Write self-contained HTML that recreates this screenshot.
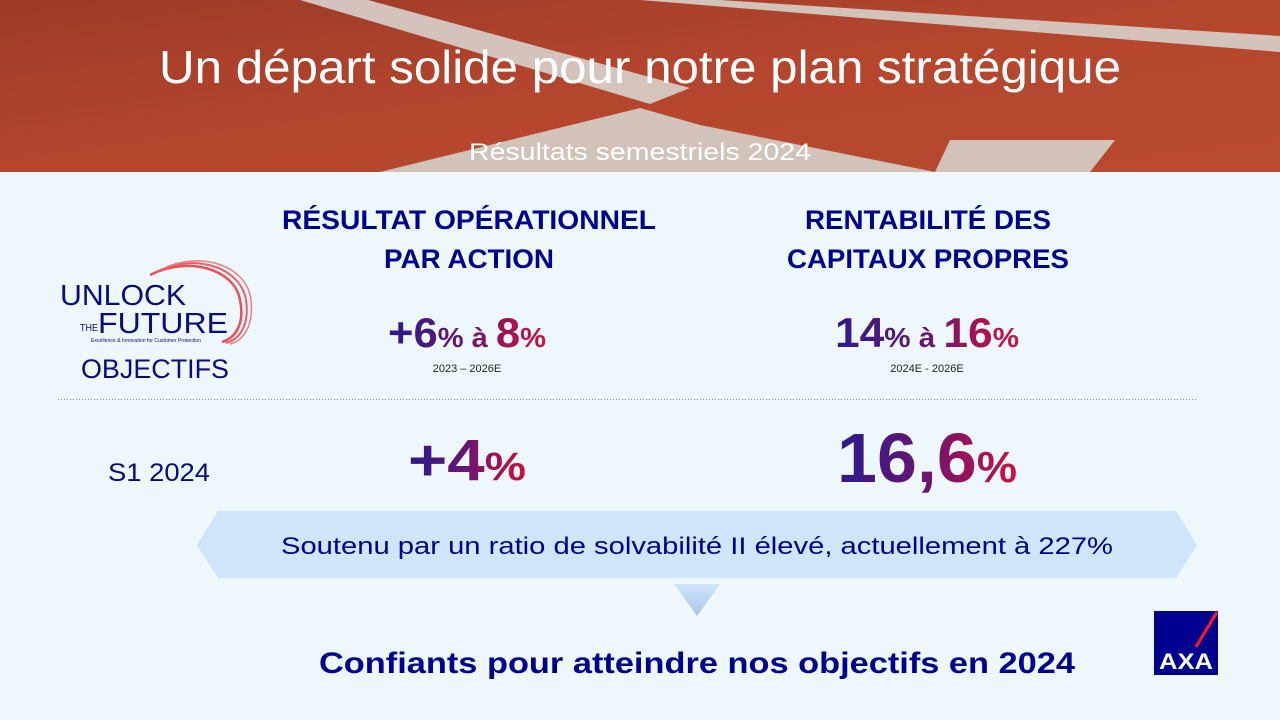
<!DOCTYPE html>
<html><head><meta charset="utf-8"><style>
html,body{margin:0;padding:0;width:1280px;height:720px;overflow:hidden;background:#eef8fc}
svg{display:block}
text{font-family:"Liberation Sans",sans-serif}
</style></head><body>
<svg width="1280" height="720" viewBox="0 0 1280 720">
<defs>
<linearGradient id="trk" x1="0" y1="0" x2="1" y2="1"><stop offset="0" stop-color="#9c3a26"/><stop offset="0.5" stop-color="#b5462e"/><stop offset="1" stop-color="#b84a31"/></linearGradient>
<linearGradient id="num" x1="0" y1="0" x2="1" y2="0"><stop offset="0" stop-color="#2a1a8c"/><stop offset="0.5" stop-color="#6a1670"/><stop offset="1" stop-color="#d0103c"/></linearGradient>
<linearGradient id="tri" x1="0" y1="0" x2="0" y2="1"><stop offset="0" stop-color="#cfe4f8"/><stop offset="1" stop-color="#a8c8ea"/></linearGradient>
</defs>
<g>
<rect x="0" y="0" width="1280" height="172" fill="url(#trk)"/>
<polygon points="300,0 368,0 690,88 650,104" fill="#d8d2cc" opacity="0.9"/>
<polygon points="640,0 720,0 1280,36 1280,52" fill="#d6d0ca" opacity="0.9"/>
<polygon points="380,172 640,108 700,125 935,172" fill="#d4cfca" opacity="0.9"/>
<polygon points="935,172 950,140 1115,140 1090,172" fill="#d4cfca" opacity="0.9"/>
<text x="640" y="83" text-anchor="middle" font-size="46" fill="#fff" textLength="962" lengthAdjust="spacingAndGlyphs">Un départ solide pour notre plan stratégique</text>
<text x="640" y="160" text-anchor="middle" font-size="24" fill="#fff" textLength="342" lengthAdjust="spacingAndGlyphs">Résultats semestriels 2024</text>
</g>
<g>
<path d="M150,275 C190,255 235,270 240,300 C245,325 235,338 222,342" fill="none" stroke="#e8505a" stroke-width="2.5"/>
<path d="M156,272 C196,252 241,268 246,300 C250,327 238,340 226,343" fill="none" stroke="#e8606a" stroke-width="2"/>
<path d="M162,269 C202,250 247,266 251,300 C254,328 242,341 230,344" fill="none" stroke="#ef7a80" stroke-width="1.5"/>
<text x="60" y="305" font-size="29" fill="#0a0a80" textLength="126" lengthAdjust="spacingAndGlyphs">UNLOCK</text>
<text x="80" y="331" font-size="10" fill="#0a0a80" textLength="18" lengthAdjust="spacingAndGlyphs">THE</text>
<text x="98" y="333" font-size="29" fill="#0a0a80" textLength="130" lengthAdjust="spacingAndGlyphs">FUTURE</text>
<text x="91" y="342" font-size="5" fill="#0a0a80" textLength="110" lengthAdjust="spacingAndGlyphs">Excellence &amp; Innovation for Customer Protection</text>
<text x="155" y="378" text-anchor="middle" font-size="27" fill="#0a0a80" textLength="148" lengthAdjust="spacingAndGlyphs">OBJECTIFS</text>
</g>
<g>
<text x="469" y="229" text-anchor="middle" font-size="27" font-weight="bold" fill="#00008f" textLength="374" lengthAdjust="spacingAndGlyphs">RÉSULTAT OPÉRATIONNEL</text>
<text x="469" y="268" text-anchor="middle" font-size="27" font-weight="bold" fill="#00008f" textLength="170" lengthAdjust="spacingAndGlyphs">PAR ACTION</text>
<text x="467" y="347" text-anchor="middle" font-weight="bold" fill="url(#num)" textLength="158" lengthAdjust="spacingAndGlyphs"><tspan font-size="42">+6</tspan><tspan font-size="28">% à </tspan><tspan font-size="42">8</tspan><tspan font-size="28">%</tspan></text>
<text x="467" y="372" text-anchor="middle" font-size="11" fill="#222">2023 – 2026E</text>
<text x="467" y="480" text-anchor="middle" font-weight="bold" fill="url(#num)" textLength="118" lengthAdjust="spacingAndGlyphs"><tspan font-size="58">+4</tspan><tspan font-size="40">%</tspan></text>
</g>
<g>
<text x="928" y="229" text-anchor="middle" font-size="27" font-weight="bold" fill="#00008f" textLength="246" lengthAdjust="spacingAndGlyphs">RENTABILITÉ DES</text>
<text x="928" y="268" text-anchor="middle" font-size="27" font-weight="bold" fill="#00008f" textLength="282" lengthAdjust="spacingAndGlyphs">CAPITAUX PROPRES</text>
<text x="927" y="347" text-anchor="middle" font-weight="bold" fill="url(#num)" textLength="184" lengthAdjust="spacingAndGlyphs"><tspan font-size="42">14</tspan><tspan font-size="28">% à </tspan><tspan font-size="42">16</tspan><tspan font-size="28">%</tspan></text>
<text x="927" y="372" text-anchor="middle" font-size="11" fill="#222">2024E - 2026E</text>
<text x="927" y="482" text-anchor="middle" font-weight="bold" fill="url(#num)" textLength="180" lengthAdjust="spacingAndGlyphs"><tspan font-size="70">16,6</tspan><tspan font-size="44">%</tspan></text>
</g>
<line x1="58" y1="399.5" x2="1196" y2="399.5" stroke="#888" stroke-width="1" stroke-dasharray="1,2"/>
<text x="159" y="481" text-anchor="middle" font-size="25" fill="#0a0a80" textLength="102" lengthAdjust="spacingAndGlyphs">S1 2024</text>
<g>
<polygon points="197,545 218,511 1176,511 1197,545 1176,578 218,578" fill="#cfe5fa"/>
<text x="697" y="554" text-anchor="middle" font-size="24" fill="#00008f" textLength="832" lengthAdjust="spacingAndGlyphs">Soutenu par un ratio de solvabilité II élevé, actuellement à 227%</text>
</g>
<polygon points="674,584 720,584 697,616" fill="url(#tri)"/>
<text x="697" y="673" text-anchor="middle" font-size="30" font-weight="bold" fill="#00008f" textLength="756" lengthAdjust="spacingAndGlyphs">Confiants pour atteindre nos objectifs en 2024</text>
<g>
<rect x="1154" y="611" width="64" height="64" fill="#00008f"/>
<line x1="1196" y1="647" x2="1217" y2="612" stroke="#ff1721" stroke-width="3"/>
<text x="1186" y="669" text-anchor="middle" font-size="22" font-weight="bold" fill="#fff" textLength="54" lengthAdjust="spacingAndGlyphs">AXA</text>
</g>
</svg>
</body></html>
